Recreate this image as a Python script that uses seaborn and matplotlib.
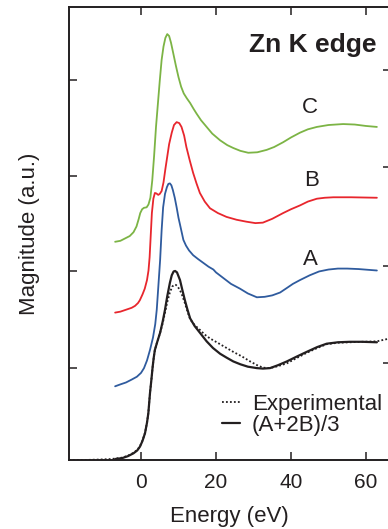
import numpy as np
import pandas as pd
import matplotlib
matplotlib.use("Agg")
import matplotlib.pyplot as plt
import seaborn as sns

# ---- data (energy in eV, magnitude in a.u., vertical offsets included) ----
exp_x = [-19.2, -15, -11, -8, -6.9, -5.0, -3.5, -2.0, -1.0, -0.27, 0.4, 1.07, 1.6, 1.96, 2.4, 2.8, 3.1,
         3.4, 3.7, 4.3, 5.1, 5.8, 6.4, 7.0, 7.7, 8.3, 8.8, 9.3, 9.8, 10.3, 10.8, 11.7, 12.4, 13.1, 14.3,
         15.7, 17.0, 18.4, 20.2, 22.4, 24.6, 27.0, 29.1, 31.0, 32.5, 34.4, 36.5, 38.9, 41.5, 44.2, 47.0,
         49.5, 52.5, 55.7, 59.0, 62.9, 66.4]
exp_y = [0.0, 0.0, 0.005, 0.01, 0.015, 0.025, 0.045, 0.075, 0.105, 0.145, 0.205, 0.285, 0.39, 0.49, 0.70,
         0.85, 0.97, 1.07, 1.15, 1.23, 1.33, 1.43, 1.54, 1.65, 1.75, 1.81, 1.83, 1.83, 1.81, 1.78, 1.74,
         1.64, 1.55, 1.47, 1.41, 1.36, 1.31, 1.27, 1.23, 1.18, 1.13, 1.08, 1.03, 0.99, 0.965, 0.96, 0.98,
         1.01, 1.065, 1.12, 1.17, 1.21, 1.225, 1.23, 1.235, 1.24, 1.27]

fit_x = [-6.9, -5.0, -3.5, -2.0, -1.0, -0.27, 0.4, 1.07, 1.6, 1.96, 2.4, 2.8, 3.1, 3.4, 3.7, 4.3, 5.1,
         5.8, 6.4, 7.0, 7.7, 8.2, 8.7, 9.1, 9.6, 10.0, 10.4, 11.0, 11.7, 12.4, 13.1, 14.3, 15.7, 17.5,
         19.2, 21.1, 22.8, 24.6, 26.5, 28.5, 30.9, 32.5, 34.4, 36.5, 38.9, 41.5, 44.2, 47.0, 49.5, 52.5,
         55.7, 59.0, 62.9]
fit_y = [0.01, 0.02, 0.04, 0.07, 0.10, 0.14, 0.20, 0.28, 0.39, 0.49, 0.70, 0.85, 0.97, 1.07, 1.15, 1.23,
         1.33, 1.45, 1.57, 1.71, 1.85, 1.93, 1.97, 1.975, 1.96, 1.92, 1.88, 1.78, 1.67, 1.57, 1.48, 1.40,
         1.33, 1.24, 1.17, 1.11, 1.07, 1.03, 1.00, 0.975, 0.96, 0.955, 0.96, 0.99, 1.03, 1.08, 1.13, 1.18,
         1.215, 1.23, 1.235, 1.235, 1.23]

a_x = [-6.9, -5.5, -4.0, -2.5, -1.1, 0.0, 0.8, 1.6, 2.4, 3.2, 3.8, 4.2, 4.6, 5.1, 5.5, 5.9, 6.4, 6.9,
       7.3, 7.7, 8.1, 8.5, 9.0, 9.5, 10.0, 10.4, 11.3, 12.0, 12.8, 13.9, 15.2, 16.6, 18.0, 19.3, 20.0,
       22.0, 24.0, 26.4, 28.5, 30.9, 33.0, 35.0, 37.1, 39.0, 40.5, 42.4, 45.0, 47.5, 50.0, 52.5, 55.0,
       58.0, 62.9]
a_y = [0.77, 0.79, 0.81, 0.84, 0.87, 0.91, 0.96, 1.04, 1.15, 1.28, 1.42, 1.57, 1.80, 2.09, 2.40, 2.64,
       2.78, 2.85, 2.885, 2.89, 2.87, 2.82, 2.74, 2.64, 2.53, 2.46, 2.30, 2.24, 2.19, 2.14, 2.10, 2.06,
       2.02, 1.99, 1.96, 1.90, 1.84, 1.79, 1.74, 1.70, 1.705, 1.72, 1.75, 1.80, 1.84, 1.88, 1.93, 1.97,
       1.99, 2.00, 2.00, 1.995, 1.98]

b_x = [-6.9, -5.5, -4.0, -2.5, -1.6, -0.8, -0.3, 0.4, 1.0, 1.6, 2.0, 2.3, 2.6, 2.9, 3.3, 3.7, 4.1, 4.6,
       5.0, 5.5, 6.0, 6.5, 7.0, 7.5, 8.2, 8.8, 9.5, 10.2, 10.8, 11.5, 12.1, 13.0, 13.9, 14.8, 15.7, 17.0,
       18.4, 20.5, 22.8, 25.5, 28.1, 30.5, 32.5, 35.0, 37.9, 40.0, 42.4, 44.5, 46.9, 49.0, 51.3, 56.0,
       62.9]
b_y = [1.54, 1.55, 1.57, 1.59, 1.61, 1.64, 1.67, 1.73, 1.79, 1.88, 1.98, 2.12, 2.35, 2.58, 2.73, 2.79,
       2.785, 2.77, 2.78, 2.81, 2.90, 3.04, 3.17, 3.30, 3.42, 3.50, 3.53, 3.52, 3.48, 3.39, 3.27, 3.13,
       3.00, 2.89, 2.79, 2.70, 2.63, 2.58, 2.54, 2.51, 2.49, 2.475, 2.48, 2.52, 2.58, 2.62, 2.66, 2.70,
       2.73, 2.74, 2.745, 2.745, 2.74]

c_x = [-6.9, -5.5, -4.0, -3.0, -2.0, -1.2, -0.6, -0.2, 0.3, 0.8, 1.5, 2.0, 2.5, 3.0, 3.5, 4.0, 4.5, 5.0,
       5.5, 6.0, 6.5, 7.0, 7.5, 8.0, 8.6, 9.3, 10.0, 10.7, 11.4, 12.2, 13.1, 14.0, 14.8, 16.0, 17.5, 19.0,
       21.1, 23.0, 24.6, 26.5, 28.6, 31.0, 33.5, 35.5, 37.9, 40.0, 42.4, 44.5, 46.9, 50.0, 53.9, 57.0,
       60.0, 62.9]
c_y = [2.28, 2.29, 2.32, 2.34, 2.38, 2.44, 2.52, 2.58, 2.62, 2.635, 2.64, 2.67, 2.74, 2.92, 3.18, 3.48,
       3.72, 3.96, 4.18, 4.32, 4.41, 4.45, 4.43, 4.36, 4.25, 4.12, 4.00, 3.90, 3.83, 3.78, 3.73, 3.67,
       3.62, 3.55, 3.48, 3.41, 3.34, 3.29, 3.26, 3.23, 3.21, 3.215, 3.24, 3.27, 3.32, 3.37, 3.42, 3.455,
       3.48, 3.50, 3.51, 3.505, 3.49, 3.48]

curve_labels = ["C", "B", "A"]
xtick_vals = [0, 20, 40, 60]

INK = "#231f20"
GREEN = "#7cb445"
RED = "#e8262d"
BLUE = "#2f5b9e"

sns.set_theme(style="ticks")
plt.rcParams["font.family"] = ["Liberation Sans", "DejaVu Sans"]
plt.rcParams["lines.solid_joinstyle"] = "round"

fig = plt.figure(figsize=(3.88, 5.29), dpi=100)
ax = fig.add_axes([69 / 388, 69 / 529, (390 - 69) / 388, (460 - 7) / 529])

def draw(x, y, color, lw, ls="-", label=None):
    df = pd.DataFrame({"x": x, "y": y})
    sns.lineplot(data=df, x="x", y="y", ax=ax, color=color, lw=lw, linestyle=ls,
                 sort=False, estimator=None, label=label, legend=False)

draw(c_x, c_y, GREEN, 1.3)
draw(b_x, b_y, RED, 1.3)
draw(a_x, a_y, BLUE, 1.3)
draw(exp_x, exp_y, INK, 1.3, ls=(0, (1, 1.2)), label="Experimental")
draw(fit_x, fit_y, INK, 1.6, label="(A+2B)/3")

ax.set_xlim(-19.2, 66.4)
ax.set_ylim(0, 4.733)
ax.set_xticks(xtick_vals)
ax.set_xticklabels([str(v) for v in xtick_vals])
ax.set_yticks([0.96, 1.97, 2.97, 3.97])
ax.set_yticklabels([])
ax.tick_params(axis="both", direction="in", length=6, width=1.1, color=INK,
               labelsize=15, labelcolor=INK, top=True, right=False)
ax.tick_params(axis="x", pad=9)
for s in ax.spines.values():
    s.set_linewidth(1.4)
    s.set_color(INK)

ax2 = ax.twinx()
ax2.set_ylim(0, 4.733)
ax2.set_yticks([1.01, 2.03, 3.06, 4.07])
ax2.set_yticklabels([])
ax2.tick_params(axis="y", direction="in", length=5, width=1.1, color=INK)
for s in ax2.spines.values():
    s.set_visible(False)

ax.set_xlabel("Energy (eV)", fontsize=16, color=INK, labelpad=10.5)
ax.set_ylabel("Magnitude (a.u.)", fontsize=16, color=INK)
ax.yaxis.set_label_coords(-0.09, 0.5)

ax.text(62.7, 4.34, "Zn K edge", fontsize=19, fontweight="bold", color=INK,
        ha="right", va="center")
for lab, (tx, ty) in zip(curve_labels, [(45.1, 3.68), (45.6, 2.92), (45.1, 2.09)]):
    ax.text(tx, ty, lab, fontsize=16, color=INK, ha="center", va="center")

leg = ax.legend(loc="upper left", bbox_to_anchor=(222 / 388, (529 - 394) / 529),
                bbox_transform=fig.transFigure, frameon=False, fontsize=16,
                handlelength=0.8, handletextpad=0.55, labelspacing=0.0,
                borderpad=0, borderaxespad=0)
for t in leg.get_texts():
    t.set_color(INK)

fig.savefig("out.png", dpi=100)
